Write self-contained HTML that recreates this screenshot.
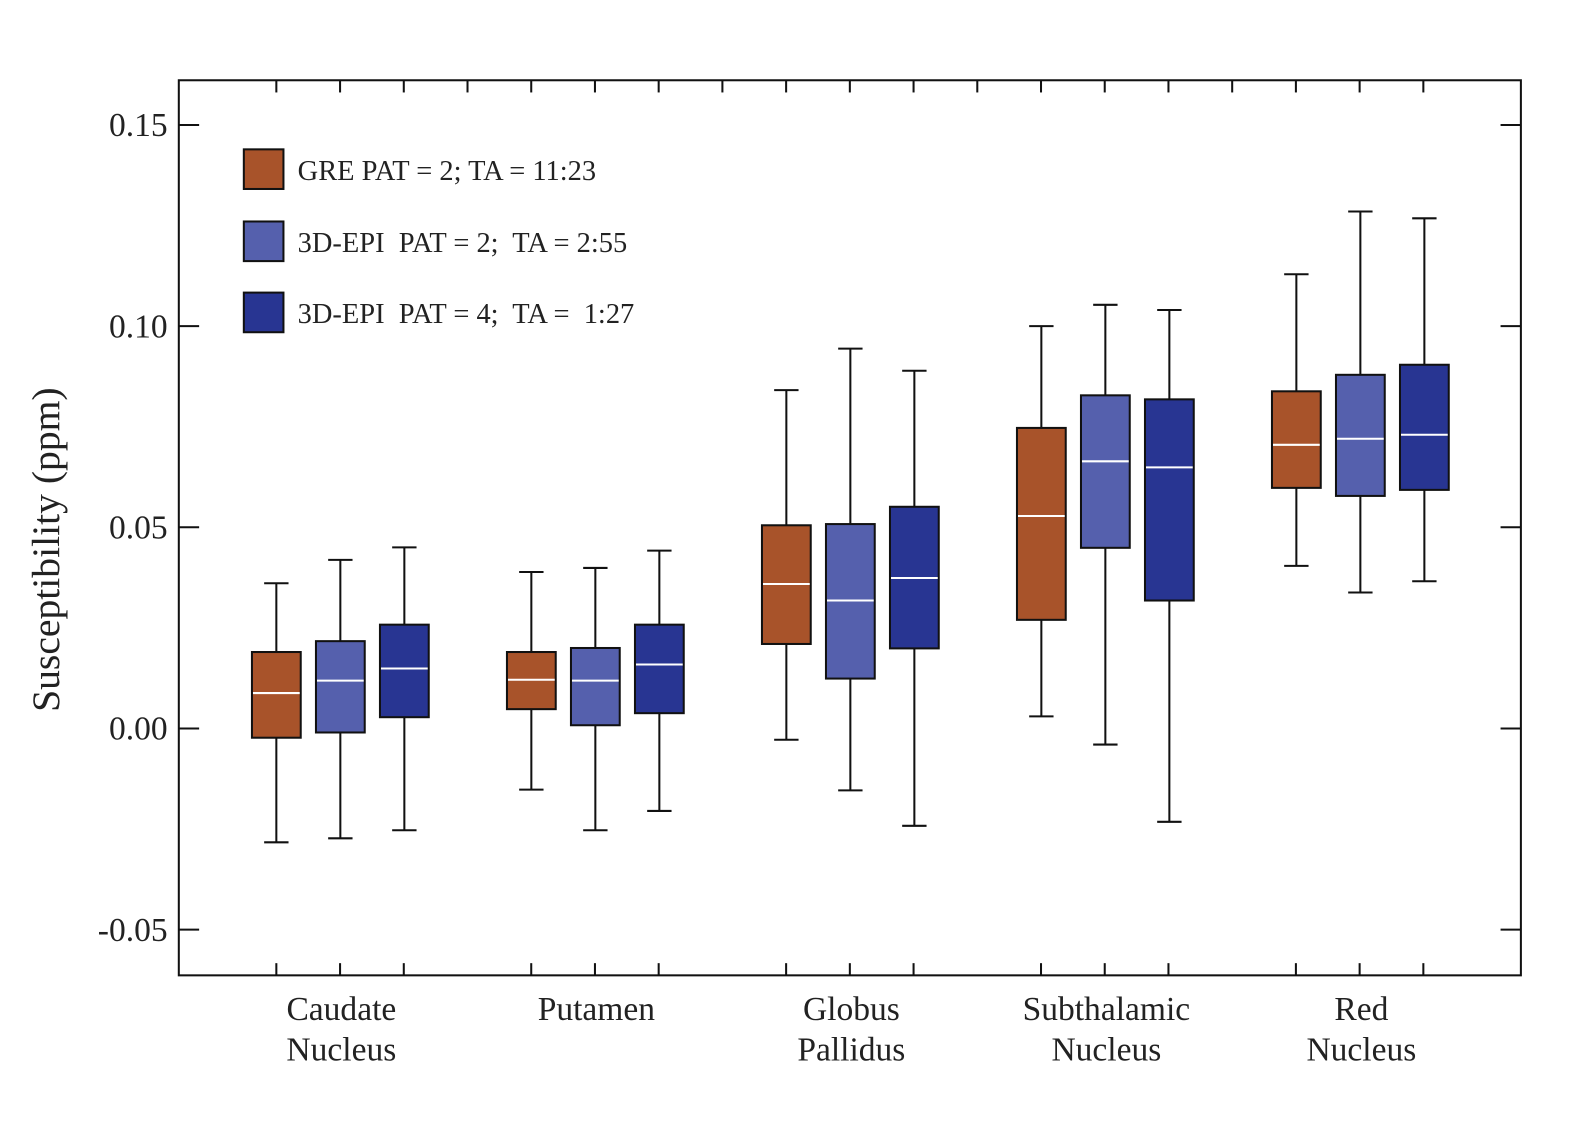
<!DOCTYPE html>
<html><head><meta charset="utf-8"><style>
html,body{margin:0;padding:0;background:#fff;}
svg{display:block;font-family:"Liberation Serif",serif;}
</style></head><body>
<svg id="chart" width="1592" height="1125" viewBox="0 0 1567 1107.3" preserveAspectRatio="none" xmlns="http://www.w3.org/2000/svg">
<g id="g"></g>
</svg>
<script>
const categories = [["Caudate","Nucleus"],["Putamen"],["Globus","Pallidus"],["Subthalamic","Nucleus"],["Red","Nucleus"]];
const seriesNames = ["GRE PAT = 2; TA = 11:23","3D-EPI  PAT = 2;  TA = 2:55","3D-EPI  PAT = 4;  TA =  1:27"];
// each entry: [min, q1, median, q3, max] per category
const greValues = [[-0.0283,-0.0023,0.0088,0.019,0.0361],[-0.0152,0.0048,0.0121,0.019,0.0389],[-0.0028,0.021,0.0359,0.0505,0.0841],[0.003,0.027,0.0528,0.0747,0.1],[0.0404,0.0598,0.0705,0.0838,0.1129]];
const epi2Values = [[-0.0273,-0.001,0.0119,0.0217,0.0419],[-0.0253,0.0008,0.0119,0.02,0.0399],[-0.0154,0.0124,0.0318,0.0508,0.0944],[-0.004,0.0449,0.0664,0.0828,0.1053],[0.0338,0.0578,0.072,0.0879,0.1285]];
const epi4Values = [[-0.0253,0.0028,0.0149,0.0258,0.045],[-0.0205,0.0038,0.0159,0.0258,0.0442],[-0.0242,0.0199,0.0374,0.0551,0.0889],[-0.0232,0.0318,0.0649,0.0818,0.104],[0.0366,0.0593,0.073,0.0904,0.1268]];
const yTicks = [-0.05,0,0.05,0.10,0.15];
const yTickLabels = ["-0.05","0.00","0.05","0.10","0.15"];

const colors = ["#a8532a","#5560ad","#283592"];
const L=176,R=1497,T=79,B=960;
const y = v => 717 - v*3960;
const groupX = i => 335 + i*251;
const seriesX = (i,s) => groupX(i) + (s-1)*63;
const NS="http://www.w3.org/2000/svg";
const g=document.getElementById('g');
function mk(tag,attrs,parent){const e=document.createElementNS(NS,tag);for(const k in attrs)e.setAttribute(k,attrs[k]);(parent||g).appendChild(e);return e;}

let fr=mk('rect',{x:L,y:T,width:R-L,height:B-T,fill:'none',stroke:'#111','stroke-width':2});



yTicks.forEach((t,i)=>{
  const yy=y(t);
  let a=mk('line',{x1:L,x2:L+20,y1:yy,y2:yy,stroke:'#111','stroke-width':2});
  
  
  let b=mk('line',{x1:R-20,x2:R,y1:yy,y2:yy,stroke:'#111','stroke-width':2});
  
  
  let tx=mk('text',{x:165,y:yy+11,'text-anchor':'end','font-size':33,fill:'#222'});
  tx.textContent=yTickLabels[i];
  
  
});
for(let k=0;k<19;k++){
  const xx=272+k*(1401-272)/18;
  let a=mk('line',{x1:xx,x2:xx,y1:T,y2:T+12,stroke:'#111','stroke-width':2});
  
  
  if(k%4!==3){
    let b=mk('line',{x1:xx,x2:xx,y1:B-12,y2:B,stroke:'#111','stroke-width':2});
    
    
  }
}
categories.forEach((c,i)=>{
  c.forEach((line,j)=>{
    let t=mk('text',{x:groupX(i)+1,y:1004+j*40,'text-anchor':'middle','font-size':33,fill:'#222'});
    t.textContent=line;
    
    
  });
});
let yt=mk('text',{x:0,y:0,'text-anchor':'middle','font-size':39,fill:'#222',transform:'translate(58,541) rotate(-90)'});
yt.textContent='Susceptibility (ppm)';



[greValues,epi2Values,epi4Values].forEach((ser,s)=>{
  ser.forEach((d,i)=>{
    const cx=seriesX(i,s), w=48;
    const grp=mk('g',{});
    
    
    mk('line',{x1:cx,x2:cx,y1:y(d[4]),y2:y(d[0]),stroke:'#111','stroke-width':2},grp);
    mk('line',{x1:cx-12,x2:cx+12,y1:y(d[4]),y2:y(d[4]),stroke:'#111','stroke-width':2},grp);
    mk('line',{x1:cx-12,x2:cx+12,y1:y(d[0]),y2:y(d[0]),stroke:'#111','stroke-width':2},grp);
    mk('rect',{x:cx-w/2,y:y(d[3]),width:w,height:y(d[1])-y(d[3]),fill:colors[s],stroke:'#111','stroke-width':2},grp);
    mk('line',{x1:cx-w/2+1,x2:cx+w/2-1,y1:y(d[2]),y2:y(d[2]),stroke:'#fff','stroke-width':2},grp);
  });
});
seriesNames.forEach((n,s)=>{
  const yy=[147,218,288][s];
  let r=mk('rect',{x:240,y:yy,width:39,height:39,fill:colors[s],stroke:'#111','stroke-width':2});
  
  
  let t=mk('text',{x:293,y:yy+30,'font-size':28,fill:'#222'});
  t.setAttribute('style','white-space:pre');
  t.textContent=n;
  
  
});
</script>
</body></html>
